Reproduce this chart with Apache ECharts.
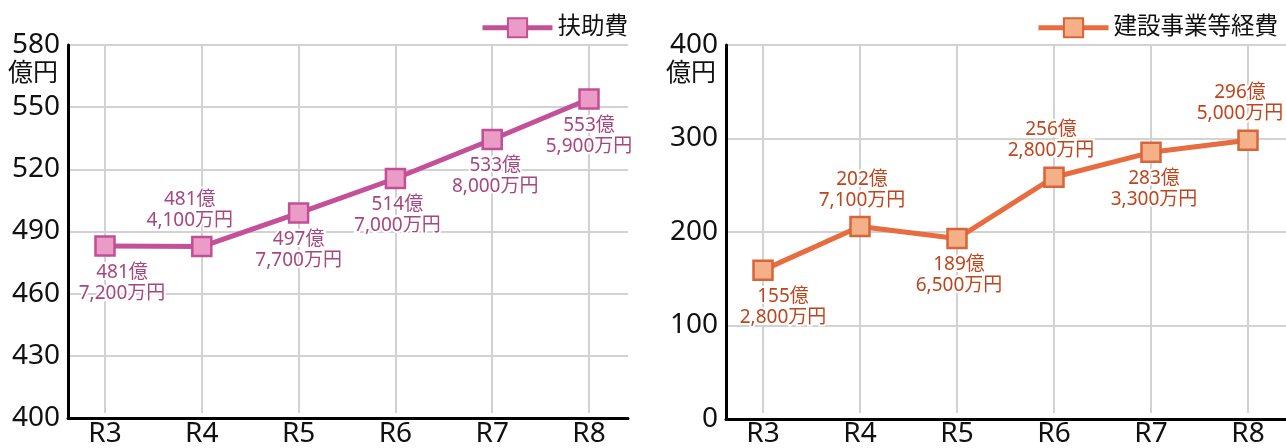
<!DOCTYPE html>
<html>
<head>
<meta charset="utf-8">
<script src="https://cdn.jsdelivr.net/npm/echarts@6/dist/echarts.min.js"></script>
<style>
html,body{margin:0;padding:0;background:#fff;}
#c{width:1286px;height:448px;}
</style>
</head>
<body>
<div id="c"></div>
<script>
// ---- data ----
const categories = ['R3', 'R4', 'R5', 'R6', 'R7', 'R8'];
const assistName = '扶助費';
const assistValues = [481.72, 481.41, 497.77, 514.70, 533.80, 553.59]; // 億円
const constructName = '建設事業等経費';
const constructValues = [155.28, 202.71, 189.65, 256.28, 283.33, 296.50]; // 億円
const assistTicks = [400, 430, 460, 490, 520, 550, 580];
const constructTicks = [0, 100, 200, 300, 400];
const unitLabel = '億円';

// ---- style ----
const FONT = '"Noto Sans", "Noto Sans CJK JP", sans-serif';
const leftLabelPlace = [['bottom', 17], ['top', -12], ['bottom', 0], ['bottom', 2], ['bottom', 3], ['bottom', 0]];
const rightLabelPlace = [['bottom', 20], ['top', 2], ['bottom', 2], ['top', -3], ['bottom', 3], ['top', -8]];

function fmt(v) {
  const oku = Math.floor(v + 1e-9);
  const man = Math.round((v - oku) * 10000);
  return oku + '億\n' + man.toLocaleString('en-US') + '万円';
}

function buildData(values, places) {
  return values.map((v, i) => ({
    value: v,
    label: { position: places[i][0], offset: [places[i][1], 0] }
  }));
}

function frameAxes(gridIndex, ticks) {
  const min = ticks[0], max = ticks[ticks.length - 1];
  return {
    x: {
      gridIndex, type: 'value', min: 0, max: 1, z: 3,
      axisLine: { show: true, lineStyle: { color: '#000', width: 3 } },
      axisTick: { show: false }, axisLabel: { show: false }, splitLine: { show: false }
    },
    y: {
      gridIndex, type: 'value', min, max, interval: ticks[1] - ticks[0], z: 3,
      axisLine: { show: true, lineStyle: { color: '#000', width: 3 } },
      axisTick: { show: false },
      axisLabel: { color: '#111', fontSize: 28, fontFamily: FONT, margin: 8 },
      splitLine: { show: true, lineStyle: { color: '#d2d2d2', width: 2 } }
    }
  };
}
function mainAxes(gridIndex, ticks) {
  return {
    x: {
      gridIndex, type: 'category', data: categories, boundaryGap: false, z: 1,
      axisLine: { show: false }, axisTick: { show: false },
      axisLabel: { color: '#111', fontSize: 28, fontFamily: FONT, margin: 7 },
      splitLine: { show: true, lineStyle: { color: '#d2d2d2', width: 2 } }
    },
    y: {
      gridIndex, type: 'value', min: ticks[0], max: ticks[ticks.length - 1], show: false,
      splitLine: { show: false }
    }
  };
}

const f0 = frameAxes(0, assistTicks), m1 = mainAxes(1, assistTicks);
const f2 = frameAxes(2, constructTicks), m3 = mainAxes(3, constructTicks);

const labelCommon = {
  show: true, fontSize: 19, lineHeight: 21, fontFamily: FONT,
  textBorderColor: '#fff', textBorderWidth: 4, distance: 5, align: 'center'
};

const option = {
  animation: false,
  backgroundColor: '#fff',
  grid: [
    { left: 68, right: 658, top: 45, bottom: 30 },
    { left: 105, right: 697, top: 45, bottom: 30 },
    { left: 726, right: 0, top: 45, bottom: 29 },
    { left: 763, right: 38, top: 45, bottom: 29 }
  ],
  xAxis: [f0.x, m1.x, f2.x, m3.x],
  yAxis: [f0.y, m1.y, f2.y, m3.y],
  legend: [
    {
      data: [assistName], right: 653, top: 11, itemWidth: 70, itemHeight: 24,
      lineStyle: { width: 5 },
      textStyle: { fontSize: 23.5, color: '#111', fontFamily: FONT }
    },
    {
      data: [constructName], right: 3, top: 11, itemWidth: 70, itemHeight: 24,
      lineStyle: { width: 5 },
      textStyle: { fontSize: 23.5, color: '#111', fontFamily: FONT }
    }
  ],
  graphic: [
    { type: 'text', left: 8, top: 59, style: { text: unitLabel, font: '25px "Noto Sans CJK JP"', fill: '#111' } },
    { type: 'text', left: 666, top: 59, style: { text: unitLabel, font: '25px "Noto Sans CJK JP"', fill: '#111' } }
  ],
  series: [
    {
      name: assistName, type: 'line', xAxisIndex: 1, yAxisIndex: 1, z: 5,
      data: buildData(assistValues, leftLabelPlace),
      symbol: 'rect', symbolSize: 19,
      lineStyle: { color: '#c4509a', width: 5 },
      itemStyle: { color: '#ea9cc6', borderColor: '#c24f96', borderWidth: 2.5 },
      label: Object.assign({}, labelCommon, { color: '#a8467f', formatter: p => fmt(p.value) })
    },
    {
      name: constructName, type: 'line', xAxisIndex: 3, yAxisIndex: 3, z: 5,
      data: buildData(constructValues, rightLabelPlace),
      symbol: 'rect', symbolSize: 19,
      lineStyle: { color: '#e86c40', width: 5 },
      itemStyle: { color: '#f5b088', borderColor: '#d7643a', borderWidth: 2.5 },
      label: Object.assign({}, labelCommon, { color: '#c0451c', formatter: p => fmt(p.value) })
    }
  ]
};

const chart = echarts.init(document.getElementById('c'), null, { renderer: 'canvas' });
chart.setOption(option);
</script>
</body>
</html>
